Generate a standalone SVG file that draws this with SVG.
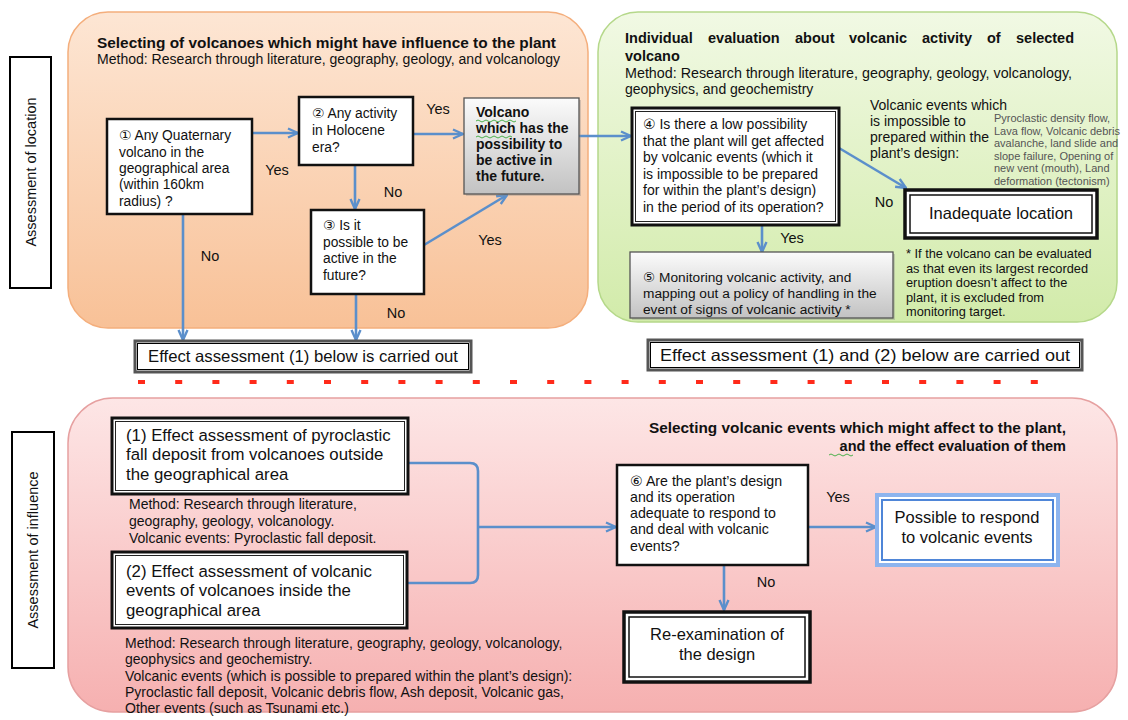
<svg xmlns="http://www.w3.org/2000/svg" width="1128" height="720" viewBox="0 0 1128 720">
<defs>
<style>
text{font-family:"Liberation Sans","DejaVu Sans",Arial,sans-serif;fill:#111}
.b{font-weight:bold}
.s14{font-size:14px}
.lbl{font-size:14.5px;text-anchor:middle}
.gray{font-size:11px;fill:#555}
.box{fill:#fff;stroke:#111;stroke-width:2.5}
.dbo{fill:#fff;stroke:#111;stroke-width:3}
.dbi{fill:none;stroke:#222;stroke-width:1}
.con{fill:none;stroke:#5b8fcb;stroke-width:2.6}
.arr{marker-end:url(#ah)}
.sq{fill:none;stroke:#4cb04c;stroke-width:1}
</style>
<marker id="ah" viewBox="0 0 12 12" refX="11" refY="6" markerWidth="12" markerHeight="12" markerUnits="userSpaceOnUse" orient="auto">
<path d="M1,1.5 L11,6 L1,10.5" fill="none" stroke="#5b8fcb" stroke-width="2.4"/>
</marker>
<linearGradient id="gOr" x1="0" y1="0" x2="0" y2="1"><stop offset="0" stop-color="#fde6d4"/><stop offset="1" stop-color="#f8c197"/></linearGradient>
<linearGradient id="gGr" x1="0" y1="0" x2="0" y2="1"><stop offset="0" stop-color="#f1f9e4"/><stop offset="1" stop-color="#d2ebaa"/></linearGradient>
<linearGradient id="gRd" x1="0" y1="0" x2="0" y2="1"><stop offset="0" stop-color="#fde6e6"/><stop offset="1" stop-color="#f6b0b0"/></linearGradient>
<linearGradient id="gGy" x1="0" y1="0" x2="0" y2="1"><stop offset="0" stop-color="#fbfbfb"/><stop offset="1" stop-color="#c2c2c2"/></linearGradient>
</defs>

<!-- side labels -->
<g id="label-location">
<rect x="10" y="57" width="41" height="231" fill="#fff" stroke="#000" stroke-width="2"/>
<text transform="translate(36,172) rotate(-90)" text-anchor="middle" style="font-size:14.5px">Assessment of location</text>
</g>
<g id="label-influence">
<rect x="12" y="432" width="42" height="236" fill="#fff" stroke="#000" stroke-width="2"/>
<text transform="translate(38,550) rotate(-90)" text-anchor="middle" style="font-size:14.5px">Assessment of influence</text>
</g>

<!-- panels -->
<g id="panel-selecting">
<rect x="68" y="12" width="520" height="316" rx="40" fill="url(#gOr)" stroke="#f4ae7c" stroke-width="1.5"/>
<text x="97" y="48" class="b" style="font-size:14px" textLength="459" lengthAdjust="spacingAndGlyphs">Selecting of volcanoes which might have influence to the plant</text>
<text x="97" y="64" style="font-size:14px" textLength="463" lengthAdjust="spacingAndGlyphs">Method: Research through literature, geography, geology, and volcanology</text>
</g>
<g id="panel-individual">
<rect x="598" y="12" width="519" height="310" rx="40" fill="url(#gGr)" stroke="#b5d88a" stroke-width="1.5"/>
<text y="43" class="b" style="font-size:14.5px"><tspan x="625">Individual</tspan><tspan x="708">evaluation</tspan><tspan x="795">about</tspan><tspan x="849">volcanic</tspan><tspan x="922">activity</tspan><tspan x="987">of</tspan><tspan x="1016">selected</tspan></text>
<text x="625" y="61" class="b" style="font-size:14.5px">volcano</text>
<text x="625" y="78" class="s14" textLength="447" lengthAdjust="spacingAndGlyphs">Method: Research through literature, geography, geology, volcanology,</text>
<text x="625" y="94" class="s14">geophysics, and geochemistry</text>
</g>
<g id="panel-influence">
<rect x="68" y="398" width="1049" height="314" rx="45" fill="url(#gRd)" stroke="#e6a0a0" stroke-width="1.5"/>
<text x="649" y="433" class="b" style="font-size:14.5px" textLength="417" lengthAdjust="spacingAndGlyphs">Selecting volcanic events which might affect to the plant,</text>
<text x="1066" y="451" class="b" style="font-size:14.5px" text-anchor="end">and the effect evaluation of them</text>
<path class="sq" d="M829,455 q2,-2 4,0 t4,0 t4,0 t4,0 t4,0 t4,0"/>
</g>

<!-- separator -->
<line x1="138" y1="382" x2="1040" y2="382" stroke="#ff2a1a" stroke-width="4" stroke-dasharray="7 30.2"/>

<!-- connectors -->
<g id="connectors">
<path class="con arr" d="M252,133 H298"/>
<path class="con arr" d="M413,134 H463"/>
<path class="con arr" d="M355,165 V209"/>
<path class="con arr" d="M424,245 L507,195"/>
<path class="con arr" d="M183,214 V340"/>
<path class="con arr" d="M356,294 V340"/>
<path class="con arr" d="M579,136 H631"/>
<path class="con arr" d="M839,148 L906,188"/>
<path class="con arr" d="M762,225 V252"/>
<path class="con" d="M408,463 H470 Q478,463 478,471 V575 Q478,583 470,583 H408"/>
<path class="con arr" d="M478,527 H616"/>
<path class="con arr" d="M808,527 H876"/>
<path class="con arr" d="M724,555 V610"/>
<text x="277" y="175" class="lbl">Yes</text>
<text x="438" y="114" class="lbl">Yes</text>
<text x="393" y="197" class="lbl">No</text>
<text x="210" y="261" class="lbl">No</text>
<text x="490" y="245" class="lbl">Yes</text>
<text x="396" y="318" class="lbl">No</text>
<text x="884" y="207" class="lbl">No</text>
<text x="792" y="243" class="lbl">Yes</text>
<text x="838" y="502" class="lbl">Yes</text>
<text x="766" y="587" class="lbl">No</text>
</g>

<!-- nodes -->
<g id="n1">
<rect x="107" y="119" width="145" height="95" class="box"/>
<text style="font-size:13.8px"><tspan x="119" y="140">① Any Quaternary</tspan><tspan x="119" y="157">volcano in the</tspan><tspan x="119" y="173">geographical area</tspan><tspan x="119" y="189">(within 160km</tspan><tspan x="119" y="206">radius) ?</tspan></text>
</g>
<g id="n2">
<rect x="299" y="97" width="114" height="68" class="box"/>
<text style="font-size:13.8px"><tspan x="312" y="118">② Any activity</tspan><tspan x="312" y="135">in Holocene</tspan><tspan x="312" y="152">era?</tspan></text>
</g>
<g id="n3">
<rect x="311" y="210" width="113" height="84" class="box"/>
<text style="font-size:13.8px"><tspan x="323" y="230">③ Is it</tspan><tspan x="323" y="247">possible to be</tspan><tspan x="323" y="263">active in the</tspan><tspan x="323" y="280">future?</tspan></text>
</g>
<g id="volcano">
<rect x="466" y="100" width="115" height="96" fill="#888" opacity="0.35"/>
<rect x="464" y="98" width="115" height="96" fill="url(#gGy)" stroke="#555" stroke-width="1.3"/>
<text class="b s14"><tspan x="476" y="117">Volcano</tspan><tspan x="476" y="133">which has the</tspan><tspan x="476" y="149">possibility to</tspan><tspan x="476" y="165">be active in</tspan><tspan x="476" y="181">the future.</tspan></text>
<path class="sq" d="M476,121 q2,-2 4,0 t4,0 t4,0 t4,0 t4,0 t4,0 t4,0 t4,0 t4,0 t4,0"/>
<path class="sq" d="M476,137 q2,-2 4,0 t4,0 t4,0 t4,0 t4,0 t4,0 t4,0 t4,0 t4,0"/>
</g>
<g id="n4">
<rect x="632" y="108" width="207" height="117" class="dbo"/>
<rect x="635.5" y="111.5" width="200" height="110" class="dbi"/>
<text class="s14"><tspan x="643" y="129">④ Is there a low possibility</tspan><tspan x="643" y="146">that the plant will get affected</tspan><tspan x="643" y="162">by volcanic events (which it</tspan><tspan x="643" y="179">is impossible to be prepared</tspan><tspan x="643" y="195">for within the plant’s design)</tspan><tspan x="643" y="212">in the period of its operation?</tspan></text>
</g>
<g id="events-note">
<text class="s14"><tspan x="870" y="110">Volcanic events which</tspan><tspan x="870" y="126">is impossible to</tspan><tspan x="870" y="142">prepared within the</tspan><tspan x="870" y="158">plant’s design:</tspan></text>
<text class="gray"><tspan x="994" y="122">Pyroclastic density flow,</tspan><tspan x="994" y="135">Lava flow, Volcanic debris</tspan><tspan x="994" y="147">avalanche, land slide and</tspan><tspan x="994" y="160">slope failure, Opening of</tspan><tspan x="994" y="172">new vent (mouth), Land</tspan><tspan x="994" y="185">deformation (tectonism)</tspan></text>
</g>
<g id="inadequate">
<rect x="905" y="190" width="192" height="48" fill="#fff" stroke="#111" stroke-width="3.5"/>
<rect x="910" y="195" width="182" height="38" fill="none" stroke="#111" stroke-width="1.5"/>
<text x="1001" y="219" text-anchor="middle" style="font-size:16.5px">Inadequate location</text>
</g>
<g id="n5">
<rect x="632" y="254" width="263" height="66" fill="#888" opacity="0.35"/>
<rect x="630" y="252" width="263" height="66" fill="url(#gGy)" stroke="#555" stroke-width="1.3"/>
<text style="font-size:13.7px"><tspan x="643" y="282">⑤ Monitoring volcanic activity, and</tspan><tspan x="643" y="298">mapping out a policy of handling in the</tspan><tspan x="643" y="314">event of signs of volcanic activity *</tspan></text>
</g>
<g id="footnote">
<text style="font-size:12.8px"><tspan x="906" y="258">* If the volcano can be evaluated</tspan><tspan x="906" y="273">as that even its largest recorded</tspan><tspan x="906" y="287">eruption doesn’t affect to the</tspan><tspan x="906" y="302">plant, it is excluded from</tspan><tspan x="906" y="316">monitoring target.</tspan></text>
</g>
<g id="effect-1-bar">
<rect x="135" y="341" width="336" height="31" fill="#fff" stroke="#555" stroke-width="3"/>
<rect x="137.5" y="343.5" width="331" height="26" fill="none" stroke="#000" stroke-width="1"/>
<text x="148" y="362" style="font-size:16.5px" textLength="310" lengthAdjust="spacingAndGlyphs">Effect assessment (1) below is carried out</text>
</g>
<g id="effect-12-bar">
<rect x="648" y="340" width="434" height="30" fill="#fff" stroke="#555" stroke-width="3"/>
<rect x="650.5" y="342.5" width="429" height="25" fill="none" stroke="#000" stroke-width="1"/>
<text x="660" y="361" style="font-size:16.5px" textLength="410" lengthAdjust="spacingAndGlyphs">Effect assessment (1) and (2) below are carried out</text>
</g>
<g id="e1">
<rect x="112" y="418" width="296" height="76" class="dbo"/>
<rect x="115.5" y="421.5" width="289" height="69" class="dbi"/>
<text style="font-size:16.8px"><tspan x="126" y="441">(1) Effect assessment of pyroclastic</tspan><tspan x="126" y="460">fall deposit from volcanoes outside</tspan><tspan x="126" y="480">the geographical area</tspan></text>
<text class="s14"><tspan x="129" y="509">Method: Research through literature,</tspan><tspan x="129" y="526">geography, geology, volcanology.</tspan><tspan x="129" y="543">Volcanic events:  Pyroclastic fall deposit.</tspan></text>
</g>
<g id="e2">
<rect x="112" y="552" width="295" height="76" class="dbo"/>
<rect x="115.5" y="555.5" width="288" height="69" class="dbi"/>
<text style="font-size:16.8px"><tspan x="126" y="577">(2) Effect assessment of volcanic</tspan><tspan x="126" y="596">events of volcanoes inside the</tspan><tspan x="126" y="616">geographical area</tspan></text>
<text class="s14"><tspan x="125" y="648">Method: Research through literature, geography, geology, volcanology,</tspan><tspan x="125" y="664">geophysics and geochemistry.</tspan><tspan x="125" y="681">Volcanic events (which is possible to prepared within the plant’s design):</tspan><tspan x="125" y="697">Pyroclastic fall deposit, Volcanic debris flow, Ash deposit, Volcanic gas,</tspan><tspan x="125" y="713">Other events (such as Tsunami etc.)</tspan></text>
</g>
<g id="n6">
<rect x="617" y="465" width="191" height="100" class="box"/>
<text style="font-size:14.2px"><tspan x="630" y="486">⑥ Are the plant’s design</tspan><tspan x="630" y="502">and its operation</tspan><tspan x="630" y="518">adequate to respond to</tspan><tspan x="630" y="534">and deal with volcanic</tspan><tspan x="630" y="551">events?</tspan></text>
</g>
<g id="possible">
<rect x="877" y="495" width="181" height="70" fill="#fff" stroke="#8db4ee" stroke-width="4"/>
<rect x="882" y="500" width="171" height="60" fill="none" stroke="#4f86d8" stroke-width="2"/>
<text x="967" y="523" text-anchor="middle" style="font-size:16.5px">Possible to respond</text>
<text x="967" y="543" text-anchor="middle" style="font-size:16.5px">to volcanic events</text>
</g>
<g id="reexam">
<rect x="624" y="612" width="186" height="70" fill="#fff" stroke="#111" stroke-width="3.5"/>
<rect x="629" y="617" width="176" height="60" fill="none" stroke="#111" stroke-width="1.5"/>
<text x="717" y="640" text-anchor="middle" style="font-size:16.5px">Re-examination of</text>
<text x="717" y="660" text-anchor="middle" style="font-size:16.5px">the design</text>
</g>
</svg>
